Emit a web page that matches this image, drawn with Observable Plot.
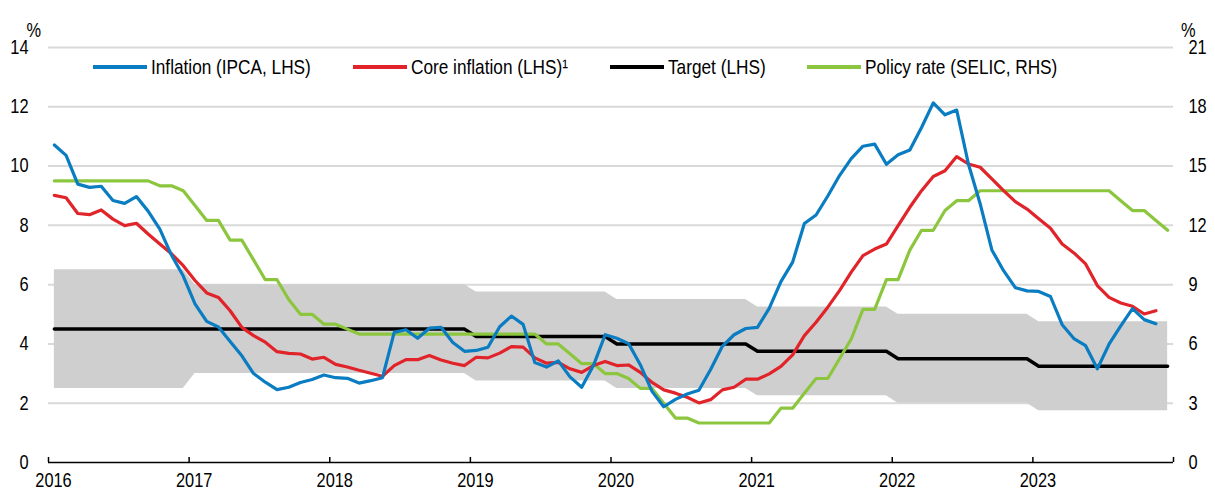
<!DOCTYPE html>
<html>
<head>
<meta charset="utf-8">
<script src="https://cdn.jsdelivr.net/npm/d3@7"></script>
<script src="https://cdn.jsdelivr.net/npm/@observablehq/plot@0.6"></script>
<style>
  body { margin: 0; background: #fff; }
  #chart { position: relative; width: 1215px; height: 490px;
    font-family: "Liberation Sans", Arial, sans-serif; }
  #chart svg { position: absolute; left: 0; top: 0; }
  #legend { position: absolute; left: 0; top: 55px; z-index: 2; height: 24px; width: 1215px;
    font-size: 21px; line-height: 24px; color: #000; white-space: nowrap; }
  .item { position: absolute; top: 0; display: flex; align-items: center; height: 24px; }
  .swatch { display: inline-block; width: 54px; height: 3.5px; margin-right: 4px; }
  .label { display: inline-block; transform: scaleX(0.82); transform-origin: left center; }
</style>
</head>
<body>
<div id="chart"><div id="legend"></div></div>
<script>
// ---- Data ----
const years = ["2016", "2017", "2018", "2019", "2020", "2021", "2022", "2023"];
const targetByYear = [4.5, 4.5, 4.5, 4.25, 4.0, 3.75, 3.5, 3.25];
const toleranceByYear = [2.0, 1.5, 1.5, 1.5, 1.5, 1.5, 1.5, 1.5];

// Headline IPCA inflation, % y/y, Jan 2016 – Nov 2023
const inflation = [
  10.71, 10.36, 9.39, 9.28, 9.32, 8.84, 8.74, 8.97, 8.48, 7.87, 6.99, 6.29,
  5.35, 4.76, 4.57, 4.08, 3.60, 3.00, 2.71, 2.46, 2.54, 2.70, 2.80, 2.95,
  2.86, 2.84, 2.68, 2.76, 2.86, 4.39, 4.48, 4.19, 4.53, 4.56, 4.05, 3.75,
  3.78, 3.89, 4.58, 4.94, 4.66, 3.37, 3.22, 3.43, 2.89, 2.54, 3.27, 4.31,
  4.19, 4.01, 3.30, 2.40, 1.88, 2.13, 2.31, 2.44, 3.14, 3.92, 4.31, 4.52,
  4.56, 5.20, 6.10, 6.76, 8.06, 8.35, 8.99, 9.68, 10.25, 10.67, 10.74, 10.06,
  10.38, 10.54, 11.30, 12.13, 11.73, 11.89, 10.07, 8.73, 7.17, 6.47, 5.90, 5.79,
  5.77, 5.60, 4.65, 4.18, 3.94, 3.16, 3.99, 4.61, 5.19, 4.82, 4.68
];

// Core inflation, % y/y, Jan 2016 – Nov 2023
const coreInflation = [
  9.01, 8.93, 8.40, 8.36, 8.52, 8.21, 7.99, 8.07, 7.71, 7.37, 7.04, 6.64,
  6.14, 5.72, 5.57, 5.12, 4.56, 4.28, 4.06, 3.74, 3.68, 3.66, 3.49, 3.55,
  3.31, 3.22, 3.11, 3.01, 2.91, 3.27, 3.47, 3.47, 3.61, 3.46, 3.35, 3.27,
  3.55, 3.53, 3.69, 3.91, 3.89, 3.53, 3.35, 3.38, 3.16, 3.04, 3.27, 3.41,
  3.27, 3.29, 3.04, 2.70, 2.45, 2.34, 2.20, 2.01, 2.12, 2.45, 2.54, 2.81,
  2.81, 2.99, 3.24, 3.63, 4.28, 4.73, 5.24, 5.80, 6.42, 6.98, 7.20, 7.37,
  7.99, 8.61, 9.17, 9.65, 9.84, 10.32, 10.07, 9.96, 9.57, 9.17, 8.80, 8.55,
  8.22, 7.90, 7.37, 7.07, 6.70, 5.97, 5.57, 5.38, 5.27, 5.01, 5.12
];

// SELIC policy rate, %, Jan 2016 – Dec 2023 (right-hand scale)
const policyRate = [
  14.25, 14.25, 14.25, 14.25, 14.25, 14.25, 14.25, 14.25, 14.25, 14.0, 14.0, 13.75,
  13.0, 12.25, 12.25, 11.25, 11.25, 10.25, 9.25, 9.25, 8.25, 7.5, 7.5, 7.0,
  7.0, 6.75, 6.5, 6.5, 6.5, 6.5, 6.5, 6.5, 6.5, 6.5, 6.5, 6.5,
  6.5, 6.5, 6.5, 6.5, 6.5, 6.5, 6.0, 6.0, 5.5, 5.0, 5.0, 4.5,
  4.5, 4.25, 3.75, 3.75, 3.0, 2.25, 2.25, 2.0, 2.0, 2.0, 2.0, 2.0,
  2.0, 2.0, 2.75, 2.75, 3.5, 4.25, 4.25, 5.25, 6.25, 7.75, 7.75, 9.25,
  9.25, 10.75, 11.75, 11.75, 12.75, 13.25, 13.25, 13.75, 13.75, 13.75, 13.75, 13.75,
  13.75, 13.75, 13.75, 13.75, 13.75, 13.75, 13.75, 13.25, 12.75, 12.75, 12.25, 11.75
];

const leftTicks = [0, 2, 4, 6, 8, 10, 12, 14];
const rightTickLabels = ["0", "3", "6", "9", "12", "15", "18", "21"];
const rhsPerLhs = 1.5;

const seriesNames = ["Inflation (IPCA, LHS)", "Core inflation (LHS)\u00B9", "Target (LHS)", "Policy rate (SELIC, RHS)"];
const seriesColors = ["#0a7cc1", "#e1232a", "#000000", "#8cc63e"];

// ---- Build monthly table ----
const nMonths = years.length * 12;
const rows = d3.range(nMonths).map(m => {
  const yi = Math.floor(m / 12);
  return {
    x: m + 0.5,
    target: targetByYear[yi],
    lo: targetByYear[yi] - toleranceByYear[yi],
    hi: targetByYear[yi] + toleranceByYear[yi],
    infl: m < inflation.length ? inflation[m] : null,
    core: m < coreInflation.length ? coreInflation[m] : null,
    policy: policyRate[m] / rhsPerLhs
  };
});
const yearTicks = d3.range(years.length + 1).map(k => k * 12);

const font = '"Liberation Sans", Arial, sans-serif';
const narrow = 0.82; // emulate Arial Narrow

const chart = Plot.plot({
  width: 1215,
  height: 490,
  marginLeft: 48,
  marginRight: 42,
  marginTop: 47,
  marginBottom: 28,
  style: { fontFamily: font, fontSize: "20px", color: "#000", background: "transparent" },
  x: { domain: [0, nMonths] },
  y: { domain: [0, 14] },
  marks: [
    Plot.ruleY(leftTicks.filter(d => d > 0), { stroke: "#d9d9d9", strokeWidth: 2 }),
    Plot.areaY(rows, { x: "x", y1: "lo", y2: "hi", fill: "#d0cfd0" }),
    Plot.lineY(rows, { x: "x", y: "target", stroke: seriesColors[2], strokeWidth: 3.5 }),
    Plot.lineY(rows, { x: "x", y: "policy", stroke: seriesColors[3], strokeWidth: 3.2 }),
    Plot.lineY(rows.filter(d => d.core != null), { x: "x", y: "core", stroke: seriesColors[1], strokeWidth: 3.2 }),
    Plot.lineY(rows.filter(d => d.infl != null), { x: "x", y: "infl", stroke: seriesColors[0], strokeWidth: 3.2 }),
    Plot.ruleY([0], { stroke: "#000", strokeWidth: 1.5 }),
    Plot.ruleX(yearTicks, { x: d => d, y1: 0, y2: 0.17, stroke: "#000", strokeWidth: 1.5 }),
    Plot.axisX(yearTicks.slice(0, years.length), {
      tickSize: 0, tickPadding: 10, dx: 5, fontSize: 20,
      tickFormat: d => years[d / 12], label: null
    }),
    Plot.axisY(leftTicks, { anchor: "left", tickSize: 0, tickPadding: 20, fontSize: 20, label: null }),
    Plot.axisY(leftTicks, {
      anchor: "right", tickSize: 0, tickPadding: 15, fontSize: 20, label: null,
      tickFormat: d => rightTickLabels[leftTicks.indexOf(d)]
    }),
    Plot.text(["%"], { frameAnchor: "top-left", dx: -22, dy: -25, fontSize: 20 }),
    Plot.text(["%"], { frameAnchor: "top-right", dx: 22, dy: -25, fontSize: 20 })
  ]
});

// Condense every SVG text horizontally around its own anchor point
chart.querySelectorAll("text").forEach(t => {
  const tr = t.getAttribute("transform") || "";
  t.setAttribute("transform", `${tr} scale(${narrow},1)`);
  const xa = t.getAttribute("x");
  if (xa != null && isFinite(+xa)) t.setAttribute("x", (+xa) / narrow);
});

const container = document.getElementById("chart");
container.insertBefore(chart, container.firstChild);

// ---- Legend (HTML overlay) ----
const legend = document.getElementById("legend");
let left = 93;
const itemGap = 42;
seriesNames.forEach((name, k) => {
  const item = document.createElement("div");
  item.className = "item";
  item.style.left = left + "px";
  const sw = document.createElement("span");
  sw.className = "swatch";
  sw.style.background = seriesColors[k];
  const tx = document.createElement("span");
  tx.className = "label";
  tx.textContent = name;
  item.appendChild(sw);
  item.appendChild(tx);
  legend.appendChild(item);
  const w = tx.getBoundingClientRect().width;
  left += 54 + 4 + w + itemGap;
});
</script>
</body>
</html>
